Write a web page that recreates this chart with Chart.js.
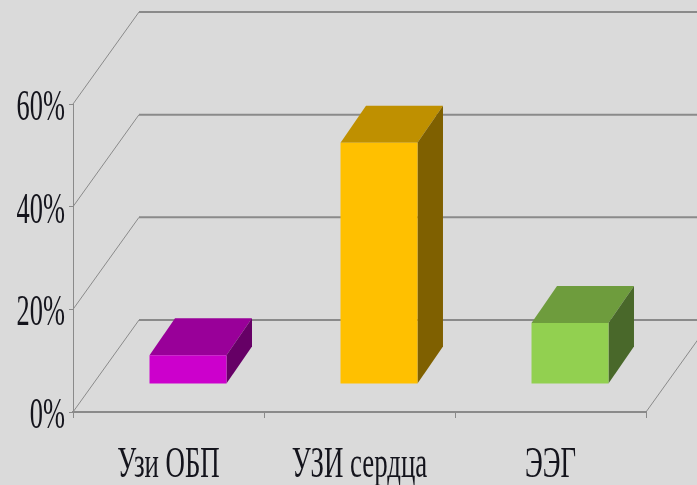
<!DOCTYPE html>
<html>
<head>
<meta charset="utf-8">
<style>
  html, body { margin: 0; padding: 0; background: #dadada; overflow: hidden; }
  canvas { display: block; }
</style>
<script src="https://cdn.jsdelivr.net/npm/chart.js@4"></script>
</head>
<body>
<canvas id="chart" width="697" height="485"></canvas>
<script>
const categories = ['Узи ОБП', 'УЗИ сердца', 'ЭЭГ'];
const values = [5.6, 47, 11.9];
const frontColors = ['#cc00cc', '#ffc000', '#92d050'];
const topColors = ['#990099', '#bf9000', '#6e9c3d'];
const sideColors = ['#660066', '#7f6000', '#49682a'];

const LINE = '#8a8a8a';
const TEXT = '#14141c';
// offsets of the fake 3d box
const WALL = { dx: 66, dy: -92 };
const BAR_SHIFT = { dx: 19.5, dy: -28 };
const BAR_DEPTH = { dx: 25.5, dy: -37 };

function poly(ctx, pts, fill) {
  ctx.beginPath();
  pts.forEach((p, i) => i ? ctx.lineTo(p[0], p[1]) : ctx.moveTo(p[0], p[1]));
  ctx.closePath();
  ctx.fillStyle = fill;
  ctx.fill();
}

function squeezedText(ctx, text, x, y, size, squeeze, align) {
  ctx.save();
  ctx.font = size + 'px "Liberation Serif"';
  ctx.fillStyle = TEXT;
  ctx.textAlign = align;
  ctx.textBaseline = 'alphabetic';
  ctx.translate(x, y);
  ctx.scale(squeeze, 1);
  ctx.fillText(text, 0, 0);
  ctx.restore();
}

const box3d = {
  id: 'box3d',
  beforeDatasetsDraw(chart) {
    const { ctx, chartArea: a, scales: { y } } = chart;
    ctx.save();
    ctx.strokeStyle = LINE;
    y.ticks.forEach(t => {
      const py = y.getPixelForValue(t.value);
      // back wall line, then the slanted bit down to the axis
      ctx.lineWidth = 2;
      ctx.beginPath();
      ctx.moveTo(a.left + WALL.dx, py + WALL.dy);
      ctx.lineTo(chart.width, py + WALL.dy);
      ctx.stroke();
      ctx.lineWidth = 1;
      ctx.beginPath();
      ctx.moveTo(a.left, py);
      ctx.lineTo(a.left + WALL.dx, py + WALL.dy);
      ctx.stroke();
    });
    // right edge of the floor
    ctx.beginPath();
    ctx.moveTo(a.right, a.bottom);
    ctx.lineTo(a.right + WALL.dx, a.bottom + WALL.dy);
    ctx.stroke();
    ctx.restore();
  },
  beforeDatasetDraw(chart, args) {
    const { ctx } = chart;
    const meta = chart.getDatasetMeta(args.index);
    const d = BAR_DEPTH;
    ctx.save();
    ctx.translate(BAR_SHIFT.dx, BAR_SHIFT.dy);
    meta.data.forEach((bar, i) => {
      const l = bar.x - bar.width / 2;
      const r = bar.x + bar.width / 2;
      poly(ctx, [[l, bar.y], [r, bar.y], [r + d.dx, bar.y + d.dy], [l + d.dx, bar.y + d.dy]], topColors[i]);
      poly(ctx, [[r, bar.y], [r + d.dx, bar.y + d.dy], [r + d.dx, bar.base + d.dy], [r, bar.base]], sideColors[i]);
    });
  },
  afterDatasetDraw(chart) {
    chart.ctx.restore();
  },
  afterDraw(chart) {
    const { ctx, scales: { x, y } } = chart;
    y.ticks.forEach(t => {
      squeezedText(ctx, t.label, 65, y.getPixelForValue(t.value) + 16, 44, 0.6, 'right');
    });
    x.ticks.forEach((t, i) => {
      squeezedText(ctx, x.getLabelForValue(t.value), x.getPixelForValue(t.value), 477, 44, 0.61, 'center');
    });
  }
};

new Chart(document.getElementById('chart'), {
  type: 'bar',
  data: {
    labels: categories,
    datasets: [{
      data: values,
      backgroundColor: frontColors,
      borderWidth: 0,
      barPercentage: 0.403,
      categoryPercentage: 1,
      clip: false
    }]
  },
  options: {
    responsive: false,
    animation: false,
    events: [],
    layout: { padding: { top: 104, right: 51, left: 0, bottom: 0 } },
    plugins: { legend: { display: false }, tooltip: { enabled: false } },
    scales: {
      x: {
        afterFit: s => { s.height = 73; },
        ticks: { display: false },
        border: { color: LINE, width: 2 },
        grid: { drawOnChartArea: false, color: LINE, tickLength: 6 }
      },
      y: {
        min: 0,
        max: 60,
        afterFit: s => { s.width = 73; },
        ticks: { display: false, stepSize: 20, callback: v => v + '%' },
        border: { color: LINE, width: 1 },
        grid: { drawOnChartArea: false, color: LINE, tickLength: 4 }
      }
    }
  },
  plugins: [box3d]
});
</script>
</body>
</html>
